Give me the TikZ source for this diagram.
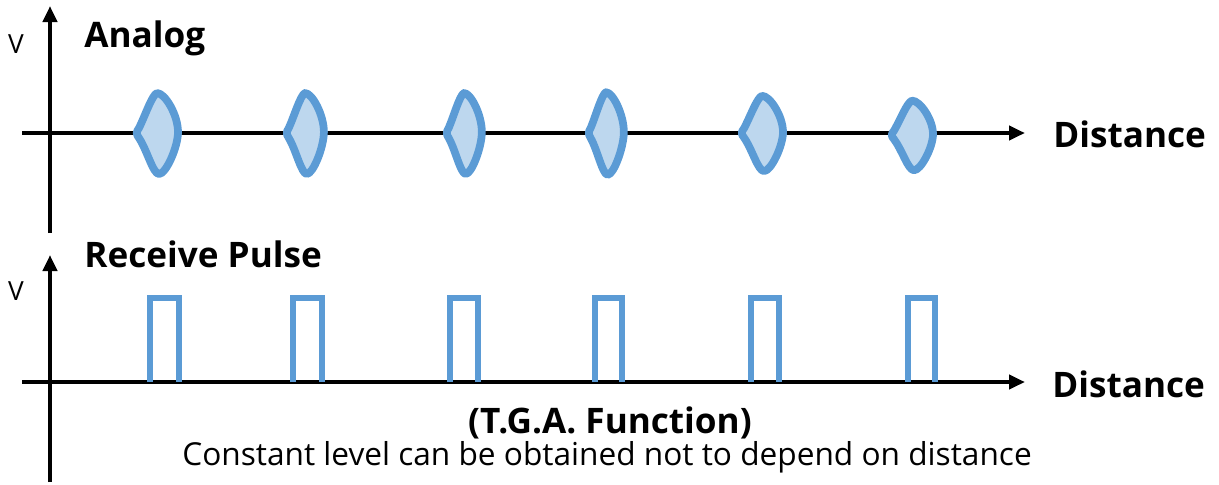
\documentclass[tikz,border=0pt]{standalone}
\usepackage{fontspec}
\setmainfont{Open Sans}
\usetikzlibrary{arrows.meta}

\definecolor{waveline}{HTML}{5B9BD5}
\definecolor{wavefill}{HTML}{BDD7EE}

\begin{document}
\begin{tikzpicture}[x=0.02cm, y=-0.02cm]
    \tikzstyle{axisline}=[line width=2.3pt]
    \tikzstyle{axisarrow}=[axisline, -{Triangle[length=0.32cm, width=0.28cm]}]
    \tikzstyle{pulse}=[draw=waveline, line width=3.4pt]
    \tikzstyle{vtext}=[inner sep=0pt, anchor=base, font=\fontsize{15}{18}\selectfont]
    \tikzstyle{title}=[inner sep=0pt, anchor=base west, font=\bfseries\fontsize{20}{23}\selectfont]
    \tikzstyle{xtext}=[inner sep=0pt, anchor=base west, font=\bfseries\fontsize{20}{23}\selectfont]
    \tikzset{pics/echo/.style={code={
      \draw[draw=waveline, fill=wavefill, line width=4.4pt, line join=round]
        (-18,-5) .. controls (-12,-17) and (-5,-38) .. (0,-40)
        .. controls (8,-40) and (21,-18) .. (21,-1)
        .. controls (21,14) and (9,41) .. (2,41)
        .. controls (-4,41) and (-10,17) .. (-18,5)
        .. controls (-21,1) and (-21,-1) .. (-18,-5) -- cycle;}}}

    \useasboundingbox (0,0) rectangle (1219,484);

    % Analog
    \coordinate (a_x0) at (22,133);
    \coordinate (a_x1) at (1025,133);
    \coordinate (a_y0) at (50,233);
    \coordinate (a_y1) at (50,6);
    \draw[axisarrow] (a_x0) -- (a_x1);
    \draw[axisarrow] (a_y0) -- (a_y1);
    \node[vtext] (a_v) at (16,53) {V};
    \node[title] (a_title) at (84,47) {Analog};
    \node[xtext] (a_dist) at (1053,147) {Distance};
    \pic at (157,133) {echo};
    \pic[xscale=0.9] at (305,133) {echo};
    \pic[xscale=0.85] at (464,133) {echo};
    \pic[xscale=0.85, yscale=1.02] at (606,133) {echo};
    \pic[yscale=0.93] at (762,133) {echo};
    \pic[yscale=0.86] at (912,135) {echo};

    % Receive Pulse
    \coordinate (p_x0) at (22,382);
    \coordinate (p_x1) at (1025,382);
    \coordinate (p_y0) at (50,482);
    \coordinate (p_y1) at (50,255);
    \draw[axisarrow] (p_x0) -- (p_x1);
    \draw[axisarrow] (p_y0) -- (p_y1);
    \node[vtext] (p_v) at (16,300) {V};
    \node[title] (p_title) at (84,267) {Receive Pulse};
    \node[xtext] (p_dist) at (1052,397) {Distance};
    \draw[pulse] (150,382) -- (150,298) -- (179,298) -- (179,382);
    \draw[pulse] (293,382) -- (293,298) -- (322,298) -- (322,382);
    \draw[pulse] (450,382) -- (450,298) -- (478,298) -- (478,382);
    \draw[pulse] (595,382) -- (595,298) -- (622,298) -- (622,382);
    \draw[pulse] (751,382) -- (751,298) -- (779,298) -- (779,382);
    \draw[pulse] (908,382) -- (908,298) -- (935,298) -- (935,382);

    % T.G.A.
    \node[inner sep=0pt, anchor=base, font=\bfseries\fontsize{20}{23}\selectfont]
      (tga) at (610,433) {(T.G.A. Function)};
    \node[inner sep=0pt, anchor=base, font=\fontsize{18}{21}\selectfont]
      (note) at (607,465) {Constant level can be obtained not to depend on distance};
\end{tikzpicture}
\end{document}
